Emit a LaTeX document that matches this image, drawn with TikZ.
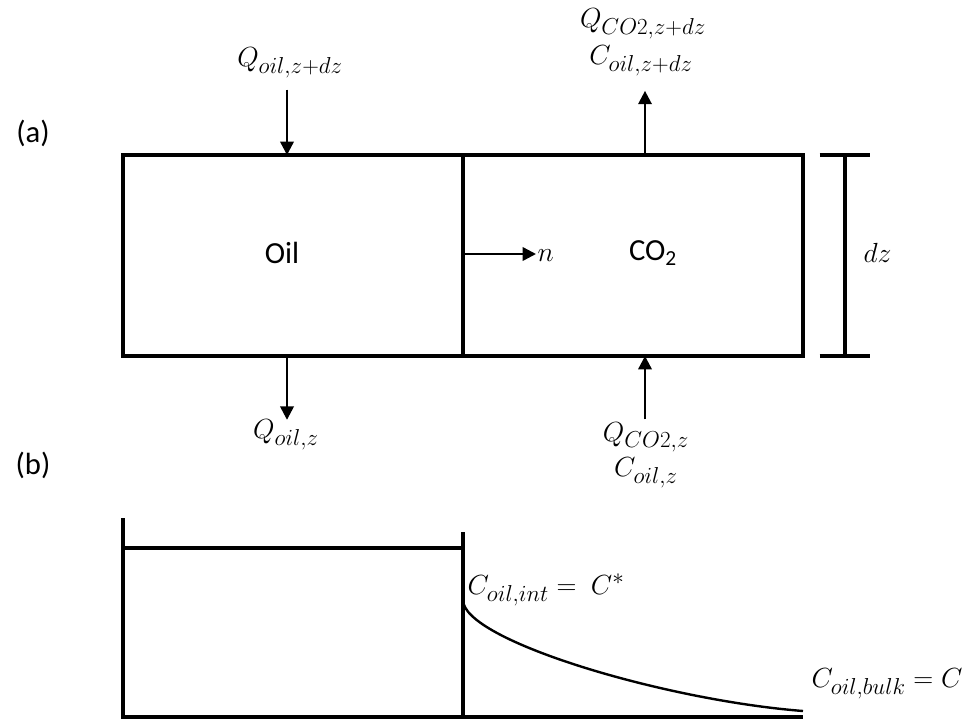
\documentclass[tikz,border=0pt]{standalone}
\usepackage{fontspec}
\setmainfont{Carlito}
\usetikzlibrary{arrows.meta,positioning}
\DeclareMathSizes{22}{22}{16}{12}

\tikzset{
  wall/.style={line width=2.3pt},
  flow/.style={line width=1.8pt,-{Triangle[length=10pt,width=10pt]}},
  phase/.style={font=\fontsize{23}{27}\selectfont},
  qty/.style={font=\fontsize{22}{26}\selectfont,inner sep=1pt},
}

\begin{document}
\begin{tikzpicture}[x=0.75pt,y=-0.75pt]
  \useasboundingbox (0,0) rectangle (966,721);

  % (a) element of height dz
  \node[phase] (taga) at (33,133) {(a)};
  \draw[wall] (123,155) rectangle (803,356);
  \draw[wall] (463,155) -- (463,356);
  \node[phase] (oil) at (282,253) {Oil};
  \node[phase] (gas) at (653,253) {CO\textsubscript{2}};
  \coordinate (nfoot) at (463,254);
  \node[qty,anchor=west] (nvec) at (536,256) {$n$};
  \draw[flow] (nfoot) -- (nfoot -| nvec.west);

  % flows in and out
  \node[qty] (qoiltop) at (290,63) {$Q_{oil,z+dz}$};
  \coordinate (oilin) at (287,155);
  \draw[flow] (qoiltop.south -| oilin) ++(0,10) -- (oilin);
  \node[qty] (qoilbot) at (286,435) {$Q_{oil,z}$};
  \coordinate (oilout) at (287,356);
  \draw[flow] (oilout) -- ([yshift=-1pt]qoilbot.north -| oilout);

  \node[qty] (qgastop) at (643,24) {$Q_{CO2,z+dz}$};
  \node[qty] (cgastop) at (641,61) {$C_{oil,z+dz}$};
  \coordinate (gasout) at (645,155);
  \draw[flow] (gasout) -- ([yshift=-10pt]cgastop.south -| gasout);
  \node[qty] (qgasbot) at (646,437) {$Q_{CO2,z}$};
  \node[qty] (cgasbot) at (646,473) {$C_{oil,z}$};
  \coordinate (gasin) at (645,356);
  \draw[flow] ([yshift=1pt]qgasbot.north -| gasin) -- (gasin);

  % height bar
  \coordinate (dztop) at (845,155);
  \coordinate (dzbot) at (845,356);
  \draw[wall] (dztop) -- (dzbot);
  \draw[wall] ([xshift=-19pt]dztop) -- ([xshift=19pt]dztop);
  \draw[wall] ([xshift=-19pt]dzbot) -- ([xshift=19pt]dzbot);
  \node[qty,anchor=west] (dz) at (862,253) {$dz$};

  % (b) concentration profile
  \node[phase] (tagb) at (33,465) {(b)};
  \draw[wall] (123,518) -- (123,717) -- (803,717);
  \draw[wall] (123,548) -- (463,548);
  \draw[wall] (463,532) -- (463,717);
  \coordinate (cstart) at (463,600);
  \coordinate (cend) at (803,711);
  \draw[line width=1.8pt] (cstart) .. controls (463,640) and (663,700) .. (cend);
  \node[qty,anchor=west] (cint) at (466,590) {$C_{oil,int} =\ C^{*}$};
  \node[qty,anchor=east] (cbulk) at (964,684) {$C_{oil,bulk} = C$};
\end{tikzpicture}
\end{document}
